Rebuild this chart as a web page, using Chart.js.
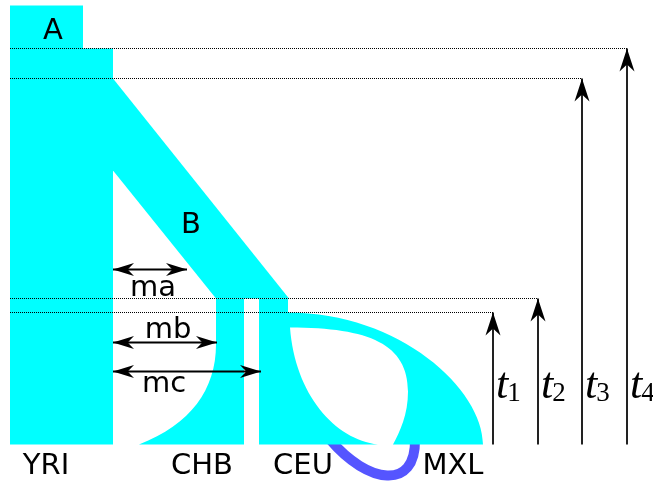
<!DOCTYPE html>
<html><head><meta charset="utf-8">
<script src="https://cdn.jsdelivr.net/npm/chart.js@4/dist/chart.umd.min.js"></script>
<style>html,body{margin:0;padding:0;background:#fff}canvas{display:block}</style>
</head><body>
<canvas id="c" width="653" height="482"></canvas>
<script>
// ---------- data: x = layout units, y = time before present (arbitrary units) ----------
const eventLabels   = ['t1', 't2', 't3', 't4'];
const eventTimes    = [132, 146, 366, 396];
const eventArrowX   = [493, 538, 582, 627];
const lineStartX    = 10;

const demeNames     = ['YRI', 'CHB', 'CEU', 'MXL'];
const demeLabelX    = [46, 202, 303, 453];
const labelTime     = -29;

const ancestorNames = ['A', 'B'];
const ancestorX     = [53, 191];
const ancestorTime  = [406, 212];

const migrationNames = ['ma', 'mb', 'mc'];
const migrationTimes = [175, 102, 73];
const migrationFromX = [113, 113, 113];
const migrationToX   = [187, 217, 261];
const migrationLabelX = [153, 168, 164];
const migrationLabelTime = [149, 107, 53];

// deme outlines (path commands in x / time units)
const shapeYRI = [['M',10,439],['L',83,439],['L',83,396],['L',113,396],['L',113,0],['L',10,0],['Z']];
const shapeB   = [['M',113,366],['L',289,146],['L',216,146],['L',113,274],['Z']];
const shapeCHB = [['M',216,146],['L',244,146],['L',244,0],['L',139,0],['C',190.6,20,216,55,216,100],['Z']];
const shapeCEU_MXL = [['M',259,146],['L',288,146],['L',288,132],['C',400,132,483,55,483,0],['L',393,0],
  ['C',400,13,408,30,408,53],['C',408,100,370,117,290,117],['C',295,50,335,5,378,0],['L',259,0],['Z']];
const pulseCurve = [['M',330,5],['C',368,-40,416,-46,415,5]];

// ---------- datasets built from the arrays ----------
const datasets = [];
eventTimes.forEach((t, i) => {
  datasets.push({ data:[{x:lineStartX,y:t},{x:eventArrowX[i],y:t}], borderColor:'#000', borderWidth:1,
    borderDash:[1,1], pointRadius:0, showLine:true, fill:false });
  datasets.push({ data:[{x:eventArrowX[i],y:0},{x:eventArrowX[i],y:t}], borderColor:'#222', borderWidth:2,
    pointRadius:0, showLine:true, fill:false });
});
migrationTimes.forEach((t, i) => {
  datasets.push({ data:[{x:migrationFromX[i],y:t},{x:migrationToX[i],y:t}], borderColor:'#000', borderWidth:2,
    pointRadius:0, showLine:true, fill:false });
});

function tracePath(ctx, cmds, px, py) {
  ctx.beginPath();
  cmds.forEach(c => {
    if (c[0] === 'M') ctx.moveTo(px(c[1]), py(c[2]));
    else if (c[0] === 'L') ctx.lineTo(px(c[1]), py(c[2]));
    else if (c[0] === 'C') ctx.bezierCurveTo(px(c[1]), py(c[2]), px(c[3]), py(c[4]), px(c[5]), py(c[6]));
    else if (c[0] === 'Z') ctx.closePath();
  });
}
function arrowHead(ctx, x, y, dx, dy, L, W) {
  const nx = -dy, ny = dx;
  ctx.beginPath();
  ctx.moveTo(x, y);
  ctx.lineTo(x - dx*L + nx*W, y - dy*L + ny*W);
  ctx.lineTo(x - dx*L*0.7, y - dy*L*0.7);
  ctx.lineTo(x - dx*L - nx*W, y - dy*L - ny*W);
  ctx.closePath();
  ctx.fill();
}

const diagram = {
  id: 'diagram',
  beforeDatasetsDraw(chart) {
    const ctx = chart.ctx, xs = chart.scales.x, ys = chart.scales.y;
    const px = v => xs.getPixelForValue(v), py = v => ys.getPixelForValue(v);
    ctx.save();
    tracePath(ctx, pulseCurve, px, py);
    ctx.strokeStyle = '#5555ff'; ctx.lineWidth = 10; ctx.lineCap = 'butt'; ctx.stroke();
    ctx.fillStyle = '#00ffff';
    [shapeYRI, shapeB, shapeCHB, shapeCEU_MXL].forEach(s => { tracePath(ctx, s, px, py); ctx.fill(); });
    ctx.restore();
  },
  afterDatasetsDraw(chart) {
    const ctx = chart.ctx, xs = chart.scales.x, ys = chart.scales.y;
    const px = v => xs.getPixelForValue(v), py = v => ys.getPixelForValue(v);
    ctx.save();
    ctx.fillStyle = '#000';
    eventTimes.forEach((t, i) => arrowHead(ctx, px(eventArrowX[i]), py(t), 0, -1, 23, 7.5));
    migrationTimes.forEach((t, i) => {
      arrowHead(ctx, px(migrationFromX[i]), py(t), -1, 0, 21, 6.5);
      arrowHead(ctx, px(migrationToX[i]), py(t), 1, 0, 21, 6.5);
    });
    ctx.font = '29px "DejaVu Sans"';
    ctx.textAlign = 'center'; ctx.textBaseline = 'alphabetic';
    demeNames.forEach((n, i) => ctx.fillText(n, px(demeLabelX[i]), py(labelTime)));
    ancestorNames.forEach((n, i) => ctx.fillText(n, px(ancestorX[i]), py(ancestorTime[i])));
    migrationNames.forEach((n, i) => ctx.fillText(n, px(migrationLabelX[i]), py(migrationLabelTime[i])));
    ctx.textAlign = 'left';
    eventLabels.forEach((lab, i) => {
      const x0 = px(eventArrowX[i]) + 3, y0 = py(47);
      ctx.font = 'italic 44px "Liberation Serif"';
      ctx.fillText(lab[0], x0, y0);
      const w = ctx.measureText(lab[0]).width;
      ctx.font = '27px "Liberation Serif"';
      ctx.fillText(lab.slice(1), x0 + w - 1, y0 + 3);
    });
    ctx.restore();
  }
};

new Chart(document.getElementById('c'), {
  type: 'scatter',
  data: { datasets },
  options: {
    responsive: false, devicePixelRatio: 1, animation: false,
    layout: { padding: 0 },
    plugins: { legend: { display: false }, tooltip: { enabled: false } },
    scales: {
      x: { type: 'linear', min: 0, max: 653, display: false },
      y: { type: 'linear', min: -37.5, max: 444.5, display: false }
    }
  },
  plugins: [diagram]
});
</script>
</body></html>
